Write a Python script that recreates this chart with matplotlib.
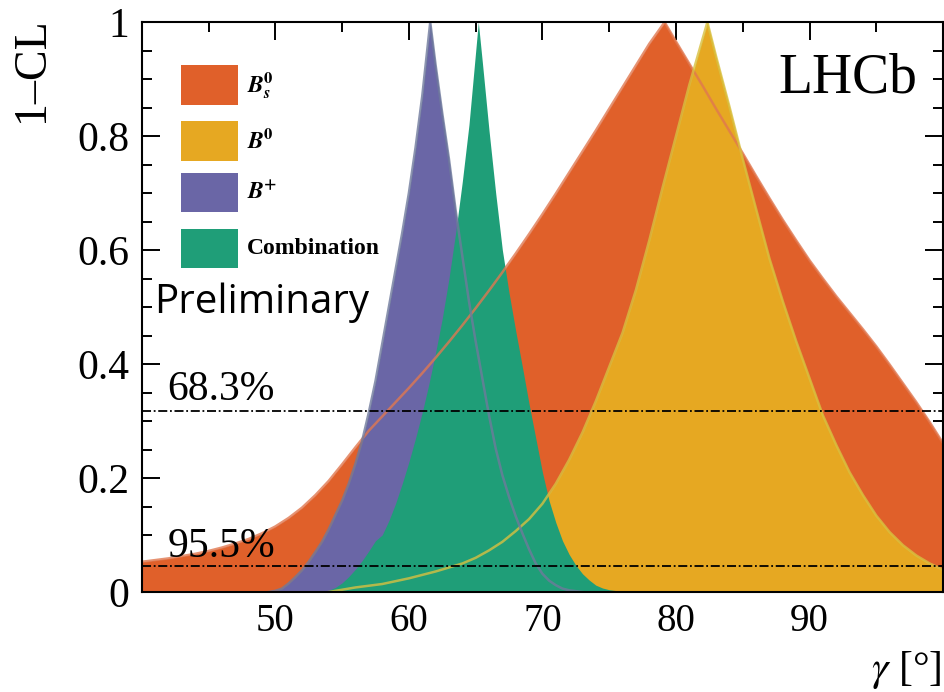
import matplotlib
matplotlib.use("Agg")
import matplotlib.pyplot as plt
from matplotlib.patches import Rectangle
from matplotlib.ticker import MultipleLocator

plt.rcParams['font.family'] = ['Liberation Serif', 'DejaVu Serif']
plt.rcParams['mathtext.fontset'] = 'stix'

# 1-CL profiles, gamma in degrees
bs_x = [40, 41, 42, 43, 44, 45, 46, 47, 48, 49, 50, 51, 52, 53, 54, 55, 56, 57, 58, 59,
        60, 61, 62, 63, 64, 65, 66, 67, 68, 69, 70, 71, 72, 73, 74, 75, 76, 77, 78, 79.15,
        80, 81, 82, 83, 84, 85, 86, 87, 88, 89, 90, 91, 92, 93, 94, 95, 96, 97, 98, 99, 100]
bs_y = [0.053, 0.056, 0.059, 0.063, 0.067, 0.072, 0.078, 0.085, 0.093, 0.103, 0.115,
        0.130, 0.148, 0.170, 0.195, 0.224, 0.254, 0.283, 0.308, 0.333,
        0.358, 0.384, 0.411, 0.439, 0.468, 0.498, 0.529, 0.561, 0.594, 0.628,
        0.663, 0.699, 0.736, 0.773, 0.810, 0.848, 0.886, 0.924, 0.962, 1.0,
        0.966, 0.927, 0.888, 0.848, 0.809, 0.770, 0.730, 0.691, 0.653, 0.617,
        0.582, 0.550, 0.519, 0.490, 0.461, 0.431, 0.399, 0.366, 0.333, 0.298, 0.261]

b0_x = [54, 55, 56, 57, 58, 59, 60, 61, 62, 63, 64, 65, 66, 67, 68, 69, 70, 71, 72, 73,
        74, 75, 76, 77, 78, 79, 80, 81, 82.35,
        83, 84, 85, 86, 87, 88, 89, 90, 91, 92, 93, 94, 95, 96, 97, 98, 99, 100]
b0_y = [0.0, 0.004, 0.008, 0.011, 0.014, 0.019, 0.024, 0.030, 0.036, 0.043, 0.050,
        0.060, 0.073, 0.088, 0.107, 0.128, 0.155, 0.190, 0.232, 0.280,
        0.335, 0.395, 0.455, 0.530, 0.617, 0.710, 0.800, 0.890, 1.0,
        0.940, 0.852, 0.760, 0.672, 0.585, 0.510, 0.440, 0.375, 0.310, 0.258,
        0.210, 0.170, 0.134, 0.105, 0.082, 0.064, 0.050, 0.039]

bp_x = [49.5, 50, 50.5, 51, 51.5, 52, 52.5, 53, 53.5, 54, 54.5, 55, 55.5, 56, 56.5, 57,
        57.5, 58, 58.5, 59, 59.5, 60, 60.5, 61, 61.6,
        62, 62.5, 63, 63.5, 64, 64.5, 65, 65.5, 66, 66.5, 67, 67.5, 68, 68.5, 69,
        69.5, 70, 70.5, 71, 71.5, 72, 73]
bp_y = [0.0, 0.002, 0.006, 0.015, 0.026, 0.038, 0.053, 0.070, 0.088, 0.110, 0.135,
        0.160, 0.190, 0.225, 0.265, 0.315, 0.370, 0.435, 0.500, 0.565, 0.630, 0.700,
        0.780, 0.870, 1.0,
        0.925, 0.840, 0.760, 0.670, 0.590, 0.510, 0.440, 0.375, 0.310, 0.252, 0.205,
        0.167, 0.133, 0.103, 0.075, 0.050, 0.032, 0.020, 0.012, 0.006, 0.003, 0.0]

comb_x = [53.5, 54, 54.5, 55, 55.5, 56, 56.5, 57, 57.5, 58, 58.5, 59, 59.5, 60, 60.5,
          61, 61.5, 62, 62.5, 63, 63.5, 64, 64.5, 65.2,
          65.5, 66, 66.5, 67, 67.5, 68, 68.5, 69, 69.5, 70, 70.5, 71, 71.5, 72, 72.5,
          73, 73.5, 74, 74.5, 75, 76, 76.5]
comb_y = [0.0, 0.003, 0.008, 0.016, 0.027, 0.040, 0.055, 0.072, 0.090, 0.100, 0.125,
          0.155, 0.190, 0.228, 0.270, 0.315, 0.365, 0.420, 0.480, 0.550, 0.630, 0.720,
          0.820, 1.0,
          0.930, 0.810, 0.700, 0.600, 0.525, 0.458, 0.395, 0.330, 0.270, 0.210, 0.160,
          0.122, 0.090, 0.066, 0.047, 0.032, 0.021, 0.012, 0.007, 0.004, 0.001, 0.0]

labels = [r'$\mathbfit{B}_{\mathbfit{s}}^{\mathbf{0}}$', r'$\mathbfit{B}^{\mathbf{0}}$',
          r'$\mathbfit{B}^{\mathbf{+}}$', 'Combination']
colors = ['#e0602a', '#e6a822', '#6a66a6', '#1f9e78']
line_colors = ['#e07850', '#d8c040', '#6f7a9c']

cl_levels = [0.317, 0.045]
cl_texts = ['68.3%', '95.5%']

fig = plt.figure(figsize=(9.45, 6.92), dpi=100)
ax = fig.add_axes([0.150, 0.1445, 0.848, 0.8235])

curves = [(bs_x, bs_y), (b0_x, b0_y), (bp_x, bp_y), (comb_x, comb_y)]
for i, (xs, ys) in enumerate(curves):
    ax.fill_between(xs, ys, 0, color=colors[i], lw=0, zorder=2 + i)
# outlines drawn over all fills
for i in range(3):
    xs, ys = curves[i]
    ax.plot(xs, ys, color=line_colors[i], lw=1.8, alpha=0.8, zorder=7)

for lev in cl_levels:
    ax.axhline(lev, color='black', lw=1.3, ls=(0, (5, 1.5, 1, 1.5)), zorder=8)
ax.text(41.9, 0.337, cl_texts[0], fontsize=30, zorder=9)
ax.text(41.9, 0.062, cl_texts[1], fontsize=30, zorder=9)

# legend boxes
box_tops = [0.924, 0.826, 0.735, 0.637]
for i in range(4):
    ax.add_patch(Rectangle((0.049, box_tops[i] - 0.069), 0.071, 0.069,
                           transform=ax.transAxes, color=colors[i], lw=0, zorder=10))
    ax.text(0.131, box_tops[i] - 0.035, labels[i], transform=ax.transAxes,
            fontsize=17, fontweight='bold', va='center', zorder=10)

ax.text(40.9, 0.49, 'Preliminary', family='Open Sans', fontsize=29, zorder=10)
ax.text(98.1, 0.877, 'LHCb', fontsize=40, ha='right', zorder=10)

ax.set_xlim(40, 100)
ax.set_ylim(0, 1)
ax.xaxis.set_minor_locator(MultipleLocator(5))
ax.yaxis.set_minor_locator(MultipleLocator(0.05))
ax.set_xticks([50, 60, 70, 80, 90])
ax.set_xticklabels(['50', '60', '70', '80', '90'])
ax.set_yticks([0, 0.2, 0.4, 0.6, 0.8, 1.0])
ax.set_yticklabels(['0', '0.2', '0.4', '0.6', '0.8', '1'])
ax.tick_params(which='both', direction='in', top=True, right=True, width=1.4)
ax.tick_params(which='major', length=13)
ax.tick_params(which='minor', length=7)
ax.tick_params(axis='x', labelsize=28, pad=8)
ax.tick_params(axis='y', labelsize=30, pad=9)
for sp in ax.spines.values():
    sp.set_linewidth(1.5)
    sp.set_zorder(12)

fig.text(0.034, 0.975, '1\u2013CL', rotation=90, fontsize=33, ha='center', va='top')
fig.text(0.997, 0.018, r'$\gamma$ [°]', fontsize=30, ha='right', va='baseline')

fig.savefig('out.png', dpi=100)
